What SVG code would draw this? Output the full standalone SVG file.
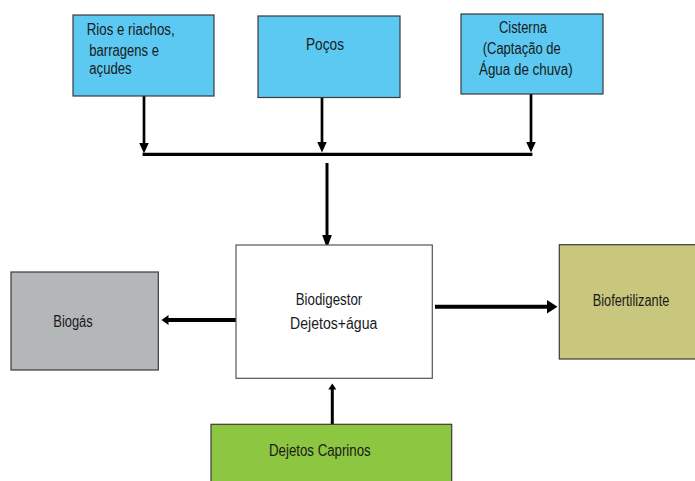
<svg xmlns="http://www.w3.org/2000/svg" width="695" height="481" viewBox="0 0 695 481">
<style>
.box{stroke:#3a3a3a;stroke-width:1.2}
.blue{fill:#5BC9F1}
.t{font-family:"Liberation Sans",Arial,sans-serif;font-size:16px;fill:#1a1a1a}
.c{stroke:#000;fill:none;stroke-linecap:butt}
</style>
<defs>
<marker id="ah" markerUnits="userSpaceOnUse" markerWidth="12" markerHeight="10" refX="0.5" refY="5" orient="auto"><path d="M0,0 L11,5 L0,10 z" fill="#000"/></marker>
<marker id="ahl" markerUnits="userSpaceOnUse" markerWidth="14" markerHeight="10" refX="0.5" refY="5" orient="auto"><path d="M0,0 L14,5 L0,10 z" fill="#000"/></marker>
<marker id="ahw" markerUnits="userSpaceOnUse" markerWidth="12" markerHeight="14" refX="0.5" refY="7" orient="auto"><path d="M0,0 L11,7 L0,14 z" fill="#000"/></marker>
<marker id="ahs" markerUnits="userSpaceOnUse" markerWidth="8" markerHeight="10" refX="0.5" refY="5" orient="auto"><path d="M0,0 L7,5 L0,10 z" fill="#000"/></marker>
<marker id="ahx" markerUnits="userSpaceOnUse" markerWidth="7" markerHeight="8" refX="0.5" refY="4" orient="auto"><path d="M0,0 L6,4 L0,8 z" fill="#000"/></marker>
</defs>
<g id="connectors">
<line class="c" x1="144" y1="96" x2="144" y2="143" stroke-width="2.7" marker-end="url(#ah)"/>
<line class="c" x1="322" y1="98" x2="322" y2="142" stroke-width="2.7" marker-end="url(#ah)"/>
<line class="c" x1="531" y1="94" x2="531" y2="142" stroke-width="2.7" marker-end="url(#ah)"/>
<line class="c" x1="142.6" y1="154.3" x2="532.4" y2="154.3" stroke-width="3.2"/>
<line class="c" x1="327" y1="163" x2="327" y2="235" stroke-width="3" marker-end="url(#ahl)"/>
<line class="c" x1="236" y1="320" x2="168" y2="320" stroke-width="4" marker-end="url(#ahs)"/>
<line class="c" x1="435" y1="306.7" x2="547" y2="306.7" stroke-width="4" marker-end="url(#ahw)"/>
<line class="c" x1="332.3" y1="425" x2="332.3" y2="389" stroke-width="3" marker-end="url(#ahx)"/>
</g>
<g id="rios">
<rect class="box blue" x="73" y="15" width="141" height="81"/>
<text class="t" x="86.7" y="34.5" textLength="88" lengthAdjust="spacingAndGlyphs">Rios e riachos,</text>
<text class="t" x="89.3" y="55.5" textLength="69.7" lengthAdjust="spacingAndGlyphs">barragens e</text>
<text class="t" x="89.3" y="74" textLength="42.4" lengthAdjust="spacingAndGlyphs">açudes</text>
</g>
<g id="pocos">
<rect class="box blue" x="258" y="16" width="142" height="81.5"/>
<text class="t" x="306" y="50" textLength="38" lengthAdjust="spacingAndGlyphs">Poços</text>
</g>
<g id="cisterna">
<rect class="box blue" x="461" y="14" width="142" height="80"/>
<text class="t" x="499" y="33.3" textLength="48" lengthAdjust="spacingAndGlyphs">Cisterna</text>
<text class="t" x="482.7" y="54" textLength="78" lengthAdjust="spacingAndGlyphs">(Captação de</text>
<text class="t" x="479" y="74.5" textLength="93.7" lengthAdjust="spacingAndGlyphs">Água de chuva)</text>
</g>
<g id="biodigestor">
<rect x="236" y="245" width="196.3" height="133.3" fill="#fff" stroke="#555" stroke-width="1.2"/>
<text class="t" x="295.7" y="305" textLength="66.6" lengthAdjust="spacingAndGlyphs">Biodigestor</text>
<text class="t" x="290" y="329" textLength="87.3" lengthAdjust="spacingAndGlyphs">Dejetos+água</text>
</g>
<g id="biogas">
<rect class="box" x="11" y="272" width="147.3" height="98" fill="#B4B7B8"/>
<text class="t" x="53.3" y="326.7" textLength="39.4" lengthAdjust="spacingAndGlyphs">Biogás</text>
</g>
<g id="biofertilizante">
<rect class="box" x="559.3" y="244.7" width="145" height="114.3" fill="#C9C67D"/>
<text class="t" x="592.7" y="306" textLength="76.6" lengthAdjust="spacingAndGlyphs">Biofertilizante</text>
</g>
<g id="caprinos">
<rect class="box" x="211" y="424.3" width="240.7" height="70" fill="#8DC641"/>
<text class="t" x="269" y="456" textLength="101.7" lengthAdjust="spacingAndGlyphs">Dejetos Caprinos</text>
</g>
</svg>
